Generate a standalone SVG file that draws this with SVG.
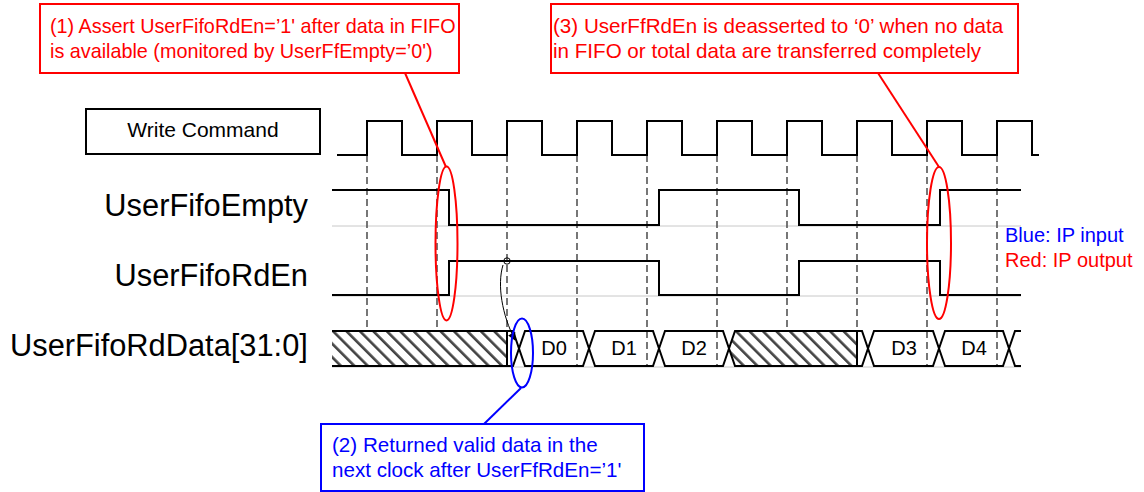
<svg xmlns="http://www.w3.org/2000/svg" width="1144" height="492" viewBox="0 0 1144 492">
<style>
text{font-family:"Liberation Sans",Arial,sans-serif}
.sig{fill:none;stroke:#000;stroke-width:2}
.ref{fill:none;stroke:#c8c8c8;stroke-width:1}
.dash{stroke:#555;stroke-width:1.6;stroke-dasharray:7 4}
.lbl{font-size:30.8px;fill:#000}
.dl{font-size:20px;fill:#000;text-anchor:middle}
.red{fill:#ff0000}
.blue{fill:#0000ff}
.rbox{fill:#fff;stroke:#ff0000;stroke-width:2}
.bbox{fill:#fff;stroke:#0000ff;stroke-width:2}
.rl{fill:none;stroke:#ff0000;stroke-width:2}
.bl{fill:none;stroke:#0000ff;stroke-width:2}
</style>
<defs>
<pattern id="hatch" patternUnits="userSpaceOnUse" width="9.5" height="9.5" patternTransform="rotate(-45)">
<rect width="9.5" height="9.5" fill="#fff"/>
<rect x="0" y="0" width="2.6" height="9.5" fill="#444"/>
</pattern>
<marker id="arr" viewBox="0 0 10 10" refX="9" refY="5" markerWidth="10" markerHeight="8" markerUnits="userSpaceOnUse" orient="auto">
<path d="M0,0 L10,5 L0,10 z" fill="#000"/>
</marker>
</defs>

<rect width="1144" height="492" fill="#fff"/>

<g id="grid">
<line class="ref" x1="332" y1="226" x2="1021" y2="226"/>
<line class="ref" x1="332" y1="296" x2="1021" y2="296"/>
<line class="ref" x1="332" y1="367" x2="1021" y2="367"/>
<line class="dash" x1="367" y1="155" x2="367" y2="366"/>
<line class="dash" x1="437" y1="155" x2="437" y2="366"/>
<line class="dash" x1="507" y1="155" x2="507" y2="366"/>
<line class="dash" x1="577" y1="155" x2="577" y2="366"/>
<line class="dash" x1="647" y1="155" x2="647" y2="366"/>
<line class="dash" x1="717" y1="155" x2="717" y2="366"/>
<line class="dash" x1="787" y1="155" x2="787" y2="366"/>
<line class="dash" x1="857" y1="155" x2="857" y2="366"/>
<line class="dash" x1="927" y1="155" x2="927" y2="366"/>
<line class="dash" x1="997" y1="155" x2="997" y2="366"/>
</g>

<g id="write-command">
<rect x="86" y="109" width="234" height="45" fill="#fff" stroke="#000" stroke-width="2"/>
<text x="203" y="137" font-size="21" text-anchor="middle">Write Command</text>
<path class="sig" d="M337,155 H367 V121 H402 V155 H437 V121 H472 V155 H507 V121 H542 V155 H577 V121 H612 V155 H647 V121 H682 V155 H717 V121 H752 V155 H787 V121 H822 V155 H857 V121 H892 V155 H927 V121 H962 V155 H997 V121 H1032 V155 H1039"/>
</g>

<g id="user-fifo-empty">
<text class="lbl" x="308" y="216" text-anchor="end">UserFifoEmpty</text>
<path class="sig" d="M332,190 H449 V225 H659 V190 H799 V225 H940 V190 H1021"/>
</g>

<g id="user-fifo-rden">
<text class="lbl" x="308" y="286" text-anchor="end">UserFifoRdEn</text>
<path class="sig" d="M332,295 H449 V261 H659 V295 H799 V261 H940 V295 H1021"/>
<circle cx="507" cy="261" r="3.2" fill="none" stroke="#000" stroke-width="1"/>
</g>

<g id="user-fifo-rddata">
<text class="lbl" x="10" y="356">UserFifoRdData[31:0]</text>
<rect x="332" y="331" width="175" height="35" fill="url(#hatch)"/>
<polygon points="729,348.5 735,331 857,331 857,366 735,366" fill="url(#hatch)"/>
<path class="sig" d="M332,331 H513 L525,366 H583 L595,331 H653 L665,366 H723 L735,331 H862 L874,366 H933 L945,331 H1003 L1015,366 H1021"/>
<path class="sig" d="M332,366 H513 L525,331 H583 L595,366 H653 L665,331 H723 L735,366 H862 L874,331 H933 L945,366 H1003 L1015,331 H1021"/>
<line class="sig" x1="507" y1="331" x2="507" y2="366"/>
<line class="sig" x1="857" y1="331" x2="857" y2="366"/>
<text class="dl" x="554" y="355">D0</text>
<text class="dl" x="624" y="355">D1</text>
<text class="dl" x="694" y="355">D2</text>
<text class="dl" x="904" y="355">D3</text>
<text class="dl" x="974" y="355">D4</text>
</g>

<g id="legend">
<text x="1005" y="242" font-size="20" class="blue">Blue: IP input</text>
<text x="1005" y="267" font-size="20" class="red">Red: IP output</text>
</g>

<g id="connectors">
<line class="rl" x1="405" y1="73" x2="446" y2="167"/>
<line class="rl" x1="878" y1="73" x2="939" y2="167"/>
<line class="bl" x1="484" y1="424" x2="521" y2="388"/>
<path d="M503,265 C497,285 502,315 515,340" fill="none" stroke="#000" stroke-width="1" marker-end="url(#arr)"/>
</g>

<g id="highlights">
<ellipse cx="446.5" cy="243.5" rx="11" ry="77" class="rl"/>
<ellipse cx="939" cy="243" rx="12" ry="76" class="rl"/>
<ellipse cx="522" cy="353" rx="11" ry="34.5" class="bl"/>
</g>

<g id="callout-1">
<rect x="40" y="4" width="419" height="69" class="rbox"/>
<text x="50" y="33" font-size="19.8" class="red">(1) Assert UserFifoRdEn=’1' after data in FIFO</text>
<text x="50" y="58" font-size="19.8" class="red">is available (monitored by UserFfEmpty=’0')</text>
</g>

<g id="callout-3">
<rect x="551" y="4" width="467" height="69" class="rbox"/>
<text x="553" y="33" font-size="20.6" class="red">(3) UserFfRdEn is deasserted to ‘0’ when no data</text>
<text x="553" y="58" font-size="20.6" class="red">in FIFO or total data are transferred completely</text>
</g>

<g id="callout-2">
<rect x="321" y="424" width="323" height="67" class="bbox"/>
<text x="332" y="452" font-size="20.6" class="blue">(2) Returned valid data in the</text>
<text x="332" y="477" font-size="20.6" class="blue">next clock after UserFfRdEn=’1'</text>
</g>
</svg>
